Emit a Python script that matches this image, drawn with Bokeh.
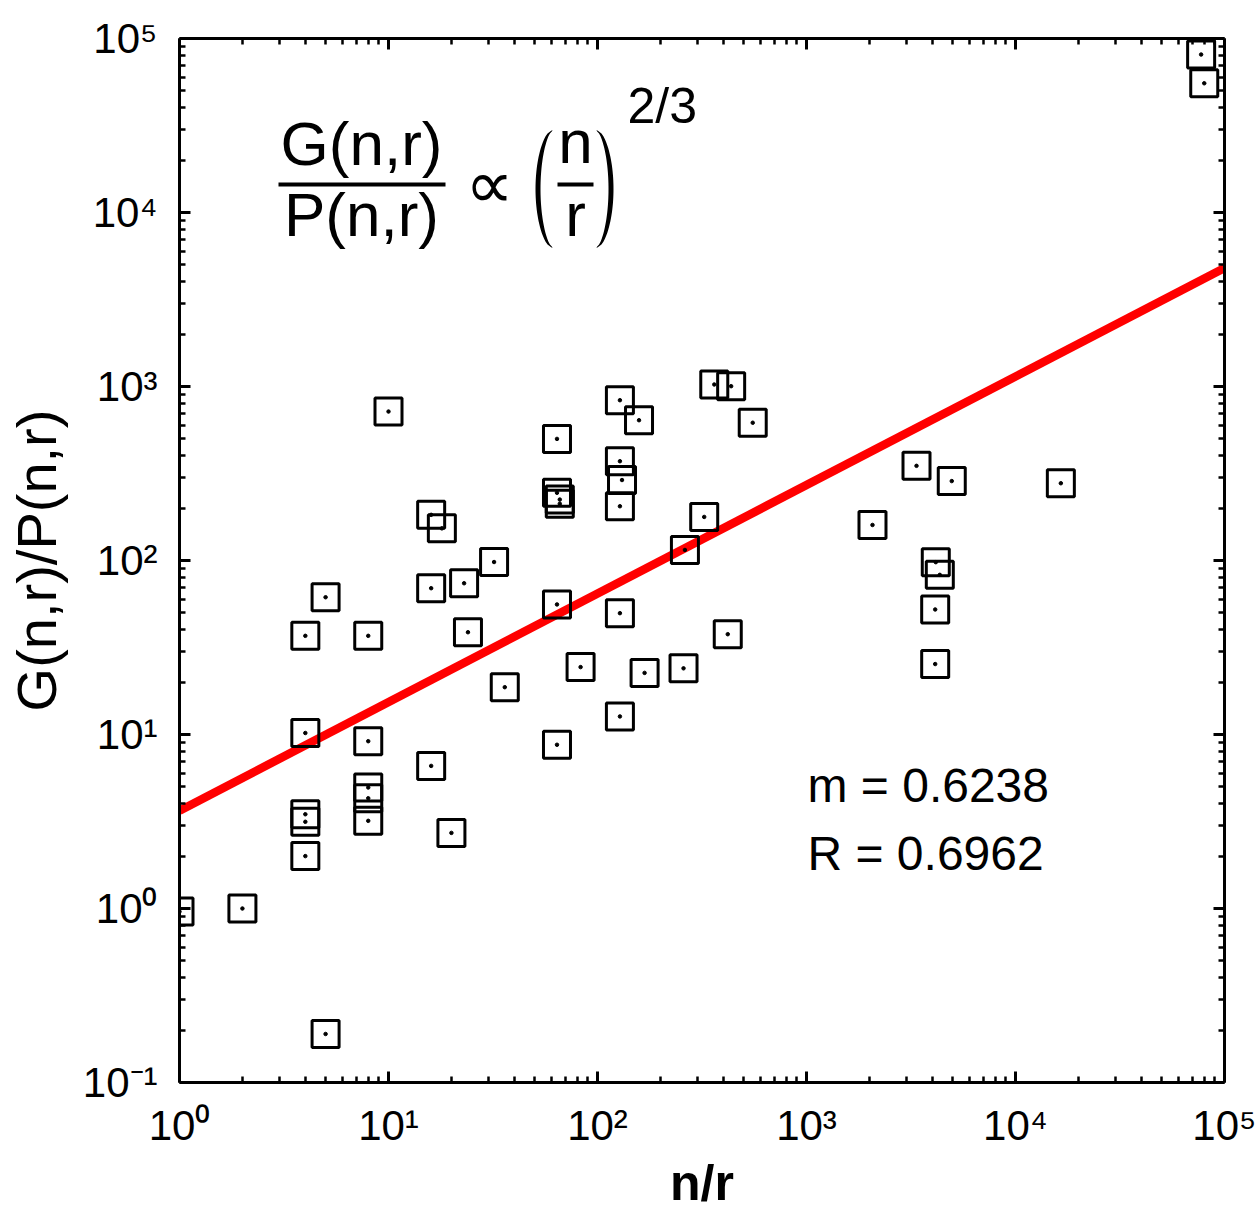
import numpy as np
from bokeh.plotting import figure
from bokeh.models import (Label, BoxAnnotation, PolyAnnotation, FixedTicker,
                          CustomJSTickFormatter, LogAxis)
from bokeh.embed import file_html
from bokeh.resources import INLINE

# ---------------- data ----------------
nr = [1, 2, 5, 4, 4, 4, 4, 4, 5, 8,
      10, 16, 18, 16, 23, 24, 32, 8, 8, 8,
      8, 16, 20, 128, 158, 362, 436, 553, 64, 64,
      66, 66, 128, 131, 128, 324, 262, 64, 128, 420,
      83, 168, 258, 36, 128, 64, 3360, 4955, 16480, 2069,
      4155, 4343, 4128, 4128, 77300, 80000]
ratio = [0.96, 1.0, 0.19, 2.0, 3.48, 3.15, 10.2, 36.9, 61.5, 36.9,
         718, 183, 153, 69.3, 74, 38.7, 98, 9.15, 4.96, 4.3,
         3.19, 6.6, 2.72, 834, 640, 1027, 1004, 619, 500, 245,
         224, 212, 372, 290, 205, 178, 115, 55.9, 49.8, 37.7,
         24.4, 22.6, 24.0, 18.7, 12.7, 8.73, 350, 286, 278, 160,
         97.8, 82.7, 52.3, 25.4, 80900, 55300]

fit_slope = 0.6238
fit_prefactor = 3.65
stat_texts = ["m = 0.6238", "R = 0.6962"]
x_tick_exps = [0, 1, 2, 3, 4, 5]
y_tick_exps = [-1, 0, 1, 2, 3, 4, 5]
x_label = "n/r"
y_label = "G(n,r)/P(n,r)"

# ---------------- layout helpers (page pixels -> data) ----------------
FX0, FY0, DEC_X, DEC_Y = 179.0, 1082.0, 209.0, 174.0
BL = 0.38  # baseline correction factor (fraction of font size)


def dx(px):
    return 10 ** ((px - FX0) / DEC_X)


def dy(py):
    return 10 ** ((FY0 - py) / DEC_Y - 1)


FONT = "Liberation Sans"

p = figure(x_axis_type="log", y_axis_type="log",
           x_range=(1, 1e5), y_range=(0.1, 1e5),
           frame_width=1045, frame_height=1044,
           min_border_left=179, min_border_right=32,
           min_border_top=38, min_border_bottom=128,
           output_backend="svg", toolbar_location=None)
p.grid.visible = False
p.outline_line_color = None
p.background_fill_color = "white"
p.border_fill_color = "white"

p.add_layout(LogAxis(), "right")
p.add_layout(LogAxis(), "above")

sup_formatter = CustomJSTickFormatter(code="""
const sup = {"-": "\\u207b", "0": "\\u2070", "1": "\\u00b9", "2": "\\u00b2",
             "3": "\\u00b3", "4": "\\u2074", "5": "\\u2075", "6": "\\u2076",
             "7": "\\u2077", "8": "\\u2078", "9": "\\u2079"};
const e = Math.round(Math.log10(tick));
return "10" + String(e).split("").map(c => sup[c]).join("");
""")
blank_formatter = CustomJSTickFormatter(code="return ''")


def style_axis(ax, exps, labelled):
    ax.ticker = FixedTicker(
        ticks=[10.0 ** e for e in exps],
        minor_ticks=[m * 10.0 ** e for e in exps[:-1] for m in range(2, 10)])
    ax.formatter = sup_formatter if labelled else blank_formatter
    ax.axis_line_width = 3
    ax.axis_line_color = "black"
    ax.major_tick_line_width = 3
    ax.minor_tick_line_width = 2.5
    ax.major_tick_in = 11
    ax.major_tick_out = 0
    ax.minor_tick_in = 6
    ax.minor_tick_out = 0
    ax.major_label_text_font = FONT
    ax.major_label_text_font_size = "42px"
    ax.major_label_text_color = "black"
    ax.axis_label_text_font = FONT
    ax.axis_label_text_font_style = "normal"
    ax.axis_label_text_color = "black"


style_axis(p.below[0], x_tick_exps, True)
style_axis(p.above[0], x_tick_exps, False)
style_axis(p.left[0], y_tick_exps, True)
style_axis(p.right[0], y_tick_exps, False)

xa = p.below[0]
xa.major_label_standoff = 19
xa.axis_label = x_label
xa.axis_label_text_font_size = "50px"
xa.axis_label_text_font_style = "bold"
xa.axis_label_standoff = 3

ya = p.left[0]
ya.major_label_standoff = 22
ya.axis_label = y_label
ya.axis_label_text_font_size = "56px"
ya.axis_label_standoff = 12

# fit line
xs_fit = np.array([1.0, 1e5])
p.line(xs_fit, fit_prefactor * xs_fit ** fit_slope, line_color="#ff0000", line_width=8.5)

# data markers
p.scatter(nr, ratio, marker="square", size=27, fill_color=None,
          line_color="black", line_width=3)
p.scatter(nr, ratio, marker="circle", size=3.5, fill_color="black", line_color="black")


def data_label(px, base, text, size, align="left", font=FONT):
    p.add_layout(Label(x=dx(px), y=dy(base - BL * size), text=text, text_align=align,
                       text_baseline="alphabetic", text_font=font,
                       text_font_size=f"{size}px", text_color="black"))


# ---------------- formula ----------------
data_label(361, 167, "G(n,r)", 62, align="center")
data_label(361, 238, "P(n,r)", 62, align="center")
p.add_layout(BoxAnnotation(left=dx(278), right=dx(445), top=dy(182), bottom=dy(186),
                           fill_color="black", fill_alpha=1, line_alpha=0))
p.add_layout(Label(x=dx(489), y=dy(184), text="\u221d", text_align="center",
                   text_baseline="middle", text_font="DejaVu Sans",
                   text_font_size="68px", text_color="black"))
data_label(575, 165, "n", 62, align="center")
data_label(575, 238, "r", 62, align="center")
p.add_layout(BoxAnnotation(left=dx(557), right=dx(593), top=dy(182), bottom=dy(186),
                           fill_color="black", fill_alpha=1, line_alpha=0))
data_label(627, 124, "2/3", 50)


def paren(x_end, x_bulge, y_top, y_bot, thick):
    t = np.linspace(-1, 1, 41)
    yc = (y_top + y_bot) / 2
    h = (y_bot - y_top) / 2
    prof = (1 - t ** 2) ** 0.6
    sgn = 1 if x_bulge < x_end else -1
    outer = x_end + (x_bulge - x_end) * prof
    inner = outer + sgn * (thick * np.sqrt(1 - t ** 2) + 1.2)
    yy = yc + h * t
    px = np.concatenate([outer, inner[::-1]])
    py = np.concatenate([yy, yy[::-1]])
    return [dx(v) for v in px], [dy(v) for v in py]


for xe, xb in [(551, 535), (597, 613)]:
    pxs, pys = paren(xe, xb, 130, 247, 3.8)
    p.add_layout(PolyAnnotation(xs=pxs, ys=pys, fill_color="black", fill_alpha=1,
                                line_alpha=0))

# ---------------- statistics ----------------
for i, txt in enumerate(stat_texts):
    data_label(807, 803 + 68 * i, txt, 48)

open("out.html", "w").write(file_html(p, INLINE))
